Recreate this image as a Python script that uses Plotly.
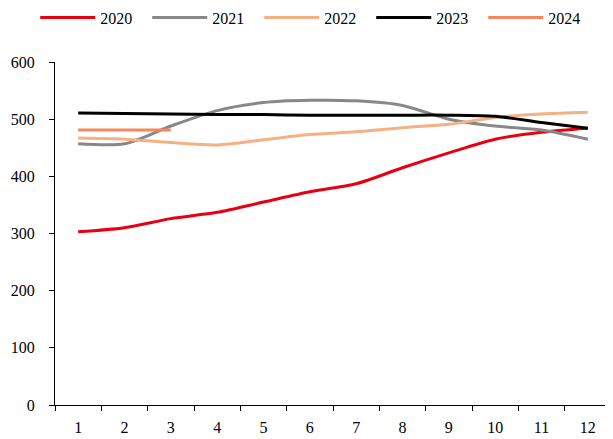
import plotly.graph_objects as go

months = ["1", "2", "3", "4", "5", "6", "7", "8", "9", "10", "11", "12"]
y2020 = [303, 310, 326, 337, 355, 373, 387, 415, 441, 465, 477, 484]
y2021 = [457, 457, 488, 515, 529, 533, 532, 524, 500, 488, 481, 465]
y2022 = [467, 465, 459, 455, 464, 473, 478, 485, 491, 503, 509, 512]
y2023 = [511, 510, 509, 508, 508, 507, 507, 507, 507, 505, 494, 484]
y2024 = [481, 481, 481]

series = [
    ("2020", y2020, "#E60012"),
    ("2021", y2021, "#888888"),
    ("2022", y2022, "#F5B183"),
    ("2023", y2023, "#000000"),
    ("2024", y2024, "#F4875E"),
]

FONT = "Liberation Serif, Times New Roman, serif"

fig = go.Figure()
for name, vals, color in series:
    fig.add_trace(go.Scatter(
        x=months[:len(vals)], y=vals, name=name, mode="lines",
        line=dict(color=color, width=3, shape="spline", smoothing=0.8),
    ))

fig.update_layout(
    width=605, height=431,
    paper_bgcolor="white", plot_bgcolor="white",
    margin=dict(l=47, r=2, t=54, b=34, autoexpand=False),
    font=dict(family=FONT, size=16, color="black"),
    showlegend=True,
    legend=dict(orientation="h", xref="container", yref="container",
                x=0.045, xanchor="left", y=0.978, yanchor="middle",
                font=dict(family=FONT, size=16), itemwidth=55,
                entrywidth=42, entrywidthmode="pixels",
                bgcolor="rgba(0,0,0,0)"),
)
fig.update_xaxes(
    type="category", range=[-0.5, 11.5], tickson="boundaries",
    showline=True, linecolor="black", linewidth=1,
    ticks="outside", ticklen=5, tickcolor="black", ticklabelstandoff=8,
    showgrid=False, zeroline=False,
)
fig.update_yaxes(
    range=[0, 600], dtick=100, tick0=0,
    showline=True, linecolor="black", linewidth=1,
    ticks="outside", ticklen=5, tickcolor="black", ticklabelstandoff=11,
    showgrid=False, zeroline=False,
)

fig.write_html("out.html")
